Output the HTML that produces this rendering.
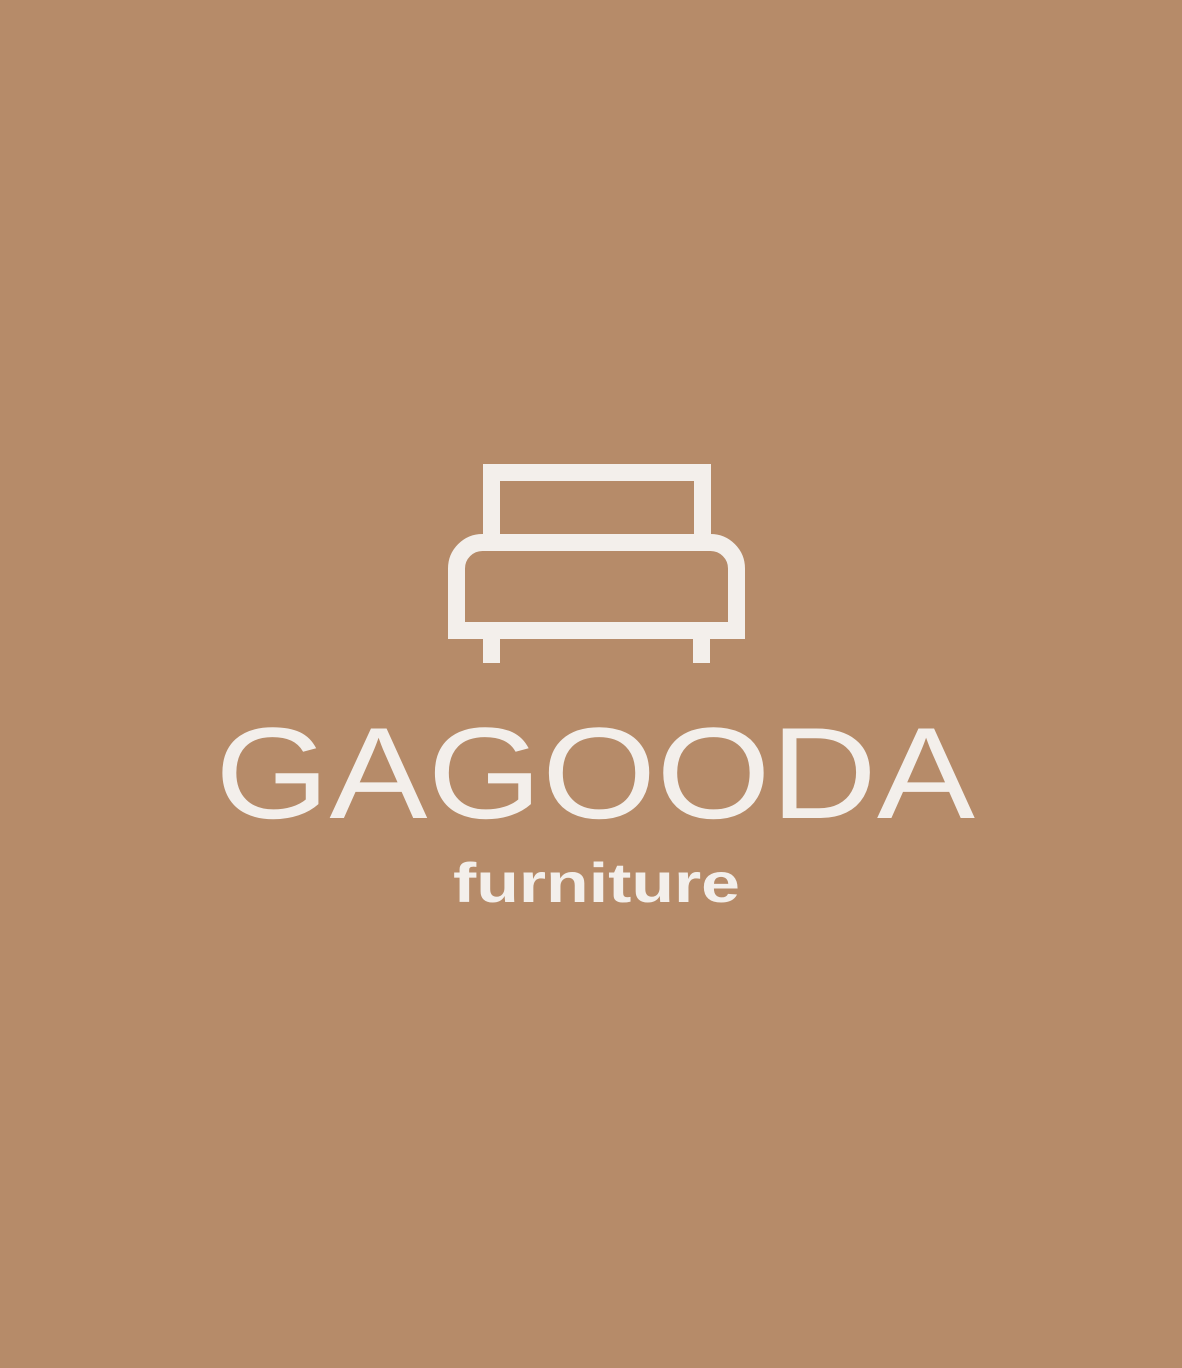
<!DOCTYPE html>
<html>
<head>
<meta charset="utf-8">
<style>
html,body{margin:0;padding:0;background:#b68b69;}
svg{display:block;}
</style>
</head>
<body>
<svg width="1182" height="1368" viewBox="0 0 1182 1368">
  <rect x="0" y="0" width="1182" height="1368" fill="#b68b69"/>
  <g fill="none" stroke="#f3efeb" stroke-width="17">
    <rect x="491.5" y="472.5" width="211" height="72"/>
    <path d="M456.5 630.5 V568.5 A26 26 0 0 1 482.5 542.5 H710.5 A26 26 0 0 1 736.5 568.5 V630.5 Z" fill="#b68b69"/>
  </g>
  <rect x="483" y="638" width="17" height="25" fill="#f3efeb"/>
  <rect x="693" y="638" width="17" height="25" fill="#f3efeb"/>
  <text x="215" y="818" textLength="760" lengthAdjust="spacingAndGlyphs" font-family="Liberation Sans, sans-serif" font-size="130" fill="#f3efeb">GAGOODA</text>
  <text x="453" y="902" textLength="287" lengthAdjust="spacingAndGlyphs" font-family="Liberation Sans, sans-serif" font-weight="bold" font-size="56" fill="#f3efeb">furniture</text>
</svg>
</body>
</html>
